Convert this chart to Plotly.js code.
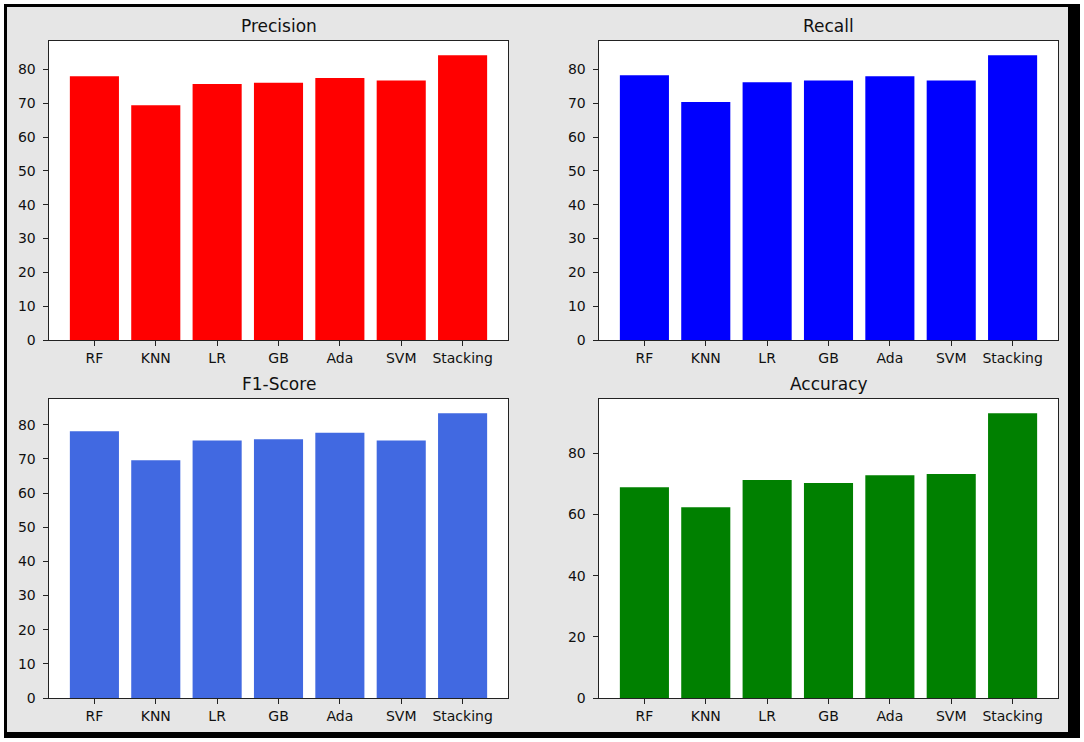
<!DOCTYPE html>
<html>
<head>
<meta charset="utf-8">
<script src="https://cdn.plot.ly/plotly-3.0.1.min.js"></script>
<style>
  html, body { margin: 0; padding: 0; background: #ffffff; width: 1084px; height: 742px; overflow: hidden; }
  #frame { position: absolute; left: 4px; top: 4px; border-style: solid; border-color: #000;
           border-width: 3px 12px 6px 3px; width: 1061px; height: 725px; }
  #chart { width: 1061px; height: 725px; }
</style>
</head>
<body>
<div id="frame"><div id="chart"></div></div>
<script>
const categories = ["RF", "KNN", "LR", "GB", "Ada", "SVM", "Stacking"];
const precision = [78.0, 69.4, 75.7, 76.1, 77.5, 76.7, 84.2];
const recall    = [78.3, 70.4, 76.2, 76.7, 78.0, 76.7, 84.2];
const f1score   = [78.1, 69.6, 75.4, 75.8, 77.7, 75.4, 83.4];
const accuracy  = [68.9, 62.4, 71.3, 70.3, 72.8, 73.2, 93.1];
const panelTitles = ["Precision", "Recall", "F1-Score", "Accuracy"];
const panelColors = ["#ff0000", "#0000ff", "#4169e1", "#008000"];

const series = [precision, recall, f1score, accuracy];
const W = 1061, H = 725;
const font = "DejaVu Sans, Verdana, sans-serif";

// panel boxes in pixels relative to chart div: [left, right, top, bottom]
const boxes = [
  [42, 501, 34, 333],
  [592, 1051, 34, 333],
  [42, 501, 392, 691],
  [592, 1051, 392, 691]
];

const data = [];
const layout = {
  width: W, height: H,
  margin: {l: 0, r: 0, t: 0, b: 0, pad: 0},
  paper_bgcolor: "#e6e6e6",
  plot_bgcolor: "#ffffff",
  showlegend: false,
  font: {family: font, size: 14, color: "#000"},
  annotations: []
};

series.forEach((vals, i) => {
  const n = i + 1;
  const xa = "x" + (n === 1 ? "" : n);
  const ya = "y" + (n === 1 ? "" : n);
  data.push({
    type: "bar", x: categories, y: vals, width: 0.8,
    marker: {color: panelColors[i], line: {width: 0}},
    xaxis: xa, yaxis: ya, hoverinfo: "x+y"
  });
  const b = boxes[i];
  const ymax = Math.max(...vals) * 1.05;
  const common = {
    showline: true, mirror: true, linecolor: "#222", linewidth: 1,
    ticks: "outside", ticklen: 5, tickwidth: 1, tickcolor: "#222",
    showgrid: false, zeroline: false,
    tickfont: {family: font, size: 14, color: "#111"}
  };
  layout["xaxis" + (n === 1 ? "" : n)] = Object.assign({}, common, {
    domain: [b[0] / W, b[1] / W],
    anchor: ya,
    type: "category",
    range: [-0.74, 6.74],
    fixedrange: true
  });
  layout["yaxis" + (n === 1 ? "" : n)] = Object.assign({}, common, {
    domain: [(H - b[3]) / H, (H - b[2]) / H],
    anchor: xa,
    range: [0, ymax],
    dtick: i === 3 ? 20 : 10,
    tick0: 0,
    ticksuffix: " ",
    fixedrange: true
  });
  layout.annotations.push({
    text: panelTitles[i],
    xref: "paper", yref: "paper",
    x: (b[0] + b[1]) / 2 / W,
    y: (H - b[2] + 3) / H,
    xanchor: "center", yanchor: "bottom",
    showarrow: false,
    font: {family: font, size: 17, color: "#111"}
  });
});

Plotly.newPlot("chart", data, layout, {displayModeBar: false, staticPlot: true});
</script>
</body>
</html>
